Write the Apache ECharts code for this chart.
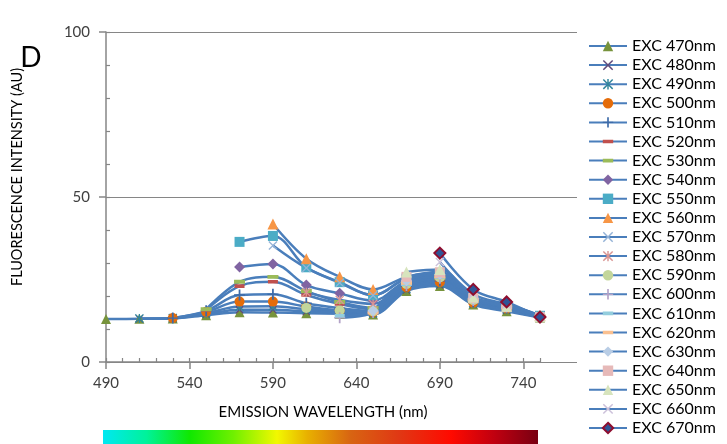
<!DOCTYPE html>
<html>
<head>
    <meta charset="utf-8">
    <script src="https://cdn.jsdelivr.net/npm/echarts@6/dist/echarts.min.js"></script>
    <style>
        html, body { margin: 0; padding: 0; background: #fff; }
    </style>
</head>
<body>
<div id="main" style="width: 727px;height:444px;"></div>
<script type="text/javascript">
    // emission wavelengths (x) and tick labels
    const emission = [490, 510, 530, 550, 570, 590, 610, 630, 650, 670, 690, 710, 730, 750];
    const xTicks = [490, 540, 590, 640, 690, 740];
    const yTicks = [0, 50, 100];

    // one array per excitation wavelength, null = not measured
    const exc470 = [13.0, 13.1, 13.2, 14.2, 15.1, 15.0, 14.8, 14.6, 14.4, 21.5, 23.0, 17.4, 15.4, 13.5];
    const exc480 = [null, 13.1, 13.2, 14.5, 15.8, 15.8, 15.3, 14.9, 14.6, 21.8, 23.3, 17.6, 15.7, 13.6];
    const exc490 = [null, 13.2, 13.3, 14.8, 16.8, 16.9, 16.0, 15.2, 14.8, 22.2, 23.8, 17.8, 16.0, 13.6];
    const exc500 = [null, null, 13.3, 15.2, 18.3, 18.3, 16.8, 15.6, 15.1, 22.6, 24.2, 18.0, 16.2, 13.7];
    const exc510 = [null, null, 13.3, 15.5, 20.3, 20.5, 17.8, 16.3, 15.4, 23.0, 24.6, 18.2, 16.4, 13.7];
    const exc520 = [null, null, null, 15.8, 23.0, 24.3, 20.3, 17.6, 16.0, 23.5, 25.0, 18.4, 16.6, 13.8];
    const exc530 = [null, null, null, 16.0, 24.3, 25.8, 21.5, 18.2, 16.4, 23.8, 25.4, 18.6, 16.8, 13.8];
    const exc540 = [null, null, null, null, 28.8, 29.7, 23.3, 20.8, 18.6, 24.6, 26.2, 19.0, 17.1, 13.9];
    const exc550 = [null, null, null, null, 36.4, 38.2, 28.7, 24.2, 20.2, 25.3, 26.8, 19.2, 17.3, 14.0];
    const exc560 = [null, null, null, null, null, 41.8, 31.3, 25.8, 22.0, 25.8, 27.3, 19.5, 17.5, 14.1];
    const exc570 = [null, null, null, null, null, 35.3, 28.5, 24.0, 20.2, 25.4, 26.9, 19.3, 17.4, 14.0];
    const exc580 = [null, null, null, null, null, null, 21.1, 18.8, 17.6, 24.2, 26.0, 19.0, 17.2, 13.9];
    const exc590 = [null, null, null, null, null, null, 16.4, 15.6, 15.3, 23.6, 25.6, 18.7, 17.0, 13.9];
    const exc600 = [null, null, null, null, null, null, null, 13.4, 15.0, 23.2, 25.4, 18.6, 16.9, 13.8];
    const exc610 = [null, null, null, null, null, null, null, 14.0, 15.3, 23.6, 25.8, 18.8, 17.0, 13.9];
    const exc620 = [null, null, null, null, null, null, null, null, 15.0, 24.0, 26.0, 18.9, 16.6, 13.8];
    const exc630 = [null, null, null, null, null, null, null, null, 15.5, 24.6, 26.6, 19.1, 16.7, 13.8];
    const exc640 = [null, null, null, null, null, null, null, null, null, 25.8, 27.2, 19.4, 16.6, 13.6];
    const exc650 = [null, null, null, null, null, null, null, null, null, 27.3, 28.0, 19.7, 16.9, 13.8];
    const exc660 = [null, null, null, null, null, null, null, null, null, null, 30.3, 20.6, 17.4, 13.8];
    const exc670 = [null, null, null, null, null, null, null, null, null, null, 33.0, 22.0, 18.2, 13.6];

    const seriesNames = ['EXC 470nm', 'EXC 480nm', 'EXC 490nm', 'EXC 500nm', 'EXC 510nm', 'EXC 520nm', 'EXC 530nm',
        'EXC 540nm', 'EXC 550nm', 'EXC 560nm', 'EXC 570nm', 'EXC 580nm', 'EXC 590nm', 'EXC 600nm', 'EXC 610nm',
        'EXC 620nm', 'EXC 630nm', 'EXC 640nm', 'EXC 650nm', 'EXC 660nm', 'EXC 670nm'];
    const seriesValues = [exc470, exc480, exc490, exc500, exc510, exc520, exc530, exc540, exc550, exc560, exc570,
        exc580, exc590, exc600, exc610, exc620, exc630, exc640, exc650, exc660, exc670];

    // marker shapes (dash keeps a square box so it stays flat in the legend too)
    const X_MARK = 'path://M0,1 L1,0 L5,4 L9,0 L10,1 L6,5 L10,9 L9,10 L5,6 L1,10 L0,9 L4,5 Z';
    const PLUS = 'path://M4.2,0 L5.8,0 L5.8,4.4 L10,4.4 L10,5.6 L5.8,5.6 L5.8,10 L4.2,10 L4.2,5.6 L0,5.6 L0,4.4 L4.2,4.4 Z';
    const STAR = 'path://M0,1 L1,0 L5,4 L9,0 L10,1 L6,5 L10,9 L9,10 L5,6 L1,10 L0,9 L4,5 Z M4.3,0 L5.7,0 L5.7,10 L4.3,10 Z';
    const DASH = 'path://M0,0 L0.01,0 L0,0.01 Z M0,3.2 L10,3.2 L10,6.8 L0,6.8 Z M10,10 L9.99,10 L10,9.99 Z';

    const markers = [
        ['triangle', 10, '#77933C'], [X_MARK, 8, '#604A7B'], [STAR, 9, '#31859C'], ['circle', 10, '#E46C0A'],
        [PLUS, 11, '#3E6BA8'], [DASH, 10, '#C0504D'], [DASH, 11, '#9BBB59'],
        ['diamond', 11, '#8064A2'], ['rect', 10, '#4BACC6'], ['triangle', 11, '#F79646'],
        [X_MARK, 9, '#95B3D7'], [STAR, 9, '#D99694'], ['circle', 10, '#C3D69B'], [PLUS, 11, '#B3A2C7'],
        [DASH, 10, '#93CDDD'], [DASH, 11, '#FAC090'], ['diamond', 11, '#B9CDE5'],
        ['rect', 10, '#E6B9B8'], ['triangle', 11, '#D7E4BD'], [X_MARK, 9, '#CCC1DA'], ['diamond', 11, '#2F5597']
    ];

    const myChart = echarts.init(document.getElementById('main'));

    const lineColor = '#4A7EBB';
    const axisGray = '#868686';
    const font = 'Lato';

    const series = seriesNames.map(function (name, i) {
        const m = markers[i];
        const s = {
            name: name,
            type: 'line',
            xAxisIndex: 0,
            yAxisIndex: 0,
            smooth: 0.35,
            symbol: m[0],
            symbolSize: m[1],
            showAllSymbol: true,
            data: emission.map(function (x, j) { return [x, seriesValues[i][j]]; })
                .filter(function (d) { return d[1] !== null; }),
            lineStyle: {color: lineColor, width: 2.5},
            itemStyle: {color: m[2]},
            emphasis: {disabled: true}
        };
        if (i === seriesNames.length - 1) {
            s.itemStyle = {color: m[2], borderColor: '#8E0E2F', borderWidth: 2};
        }
        return s;
    });

    const option = {
        animation: false,
        backgroundColor: '#fff',
        textStyle: {fontFamily: font},
        grid: [
            {left: 106, top: 32, width: 434, bottom: 82},
            {left: 106, top: 32, width: 471, bottom: 82}
        ],
        legend: {
            orient: 'vertical',
            left: 588,
            top: 38,
            padding: 0,
            itemWidth: 38,
            itemHeight: 13,
            itemGap: 3.1,
            textStyle: {fontSize: 16, fontFamily: font, color: '#000', lineHeight: 14},
            data: seriesNames
        },
        xAxis: [
            {
                type: 'value', gridIndex: 0, min: 490, max: 750, interval: 50,
                name: 'EMISSION WAVELENGTH (nm)', nameLocation: 'middle', nameGap: 43,
                nameTextStyle: {fontSize: 15, color: '#000', fontFamily: font},
                axisLine: {lineStyle: {color: axisGray, width: 1.5}},
                axisTick: {customValues: xTicks, length: 7, lineStyle: {color: axisGray, width: 1.5}},
                axisLabel: {customValues: xTicks, fontSize: 15, color: '#404040', margin: 14, fontFamily: font},
                splitLine: {show: false}
            },
            {
                type: 'value', gridIndex: 0, min: 490, max: 750, interval: 10, position: 'bottom',
                axisLine: {show: false},
                axisTick: {inside: true, length: 4, lineStyle: {color: axisGray, width: 1.2}},
                axisLabel: {show: false},
                splitLine: {show: false}
            },
            {
                type: 'value', gridIndex: 1, min: 0, max: 1, show: false
            }
        ],
        yAxis: [
            {
                type: 'value', gridIndex: 0, min: 0, max: 100, interval: 50,
                axisLine: {show: true, lineStyle: {color: axisGray, width: 1.5}},
                axisTick: {show: true, customValues: yTicks, length: 7, lineStyle: {color: axisGray, width: 1.5}},
                axisLabel: {customValues: yTicks, fontSize: 15, color: '#404040', margin: 16, fontFamily: font},
                splitLine: {show: false}
            },
            {
                type: 'value', gridIndex: 0, min: 0, max: 100, interval: 10, position: 'left',
                axisLine: {show: false},
                axisTick: {show: true, inside: true, length: 4, lineStyle: {color: axisGray, width: 1.2}},
                axisLabel: {show: false},
                splitLine: {show: false}
            },
            {
                type: 'value', gridIndex: 1, min: 0, max: 100, interval: 50,
                axisLine: {show: false}, axisTick: {show: false}, axisLabel: {show: false},
                splitLine: {show: true, lineStyle: {color: axisGray, width: 1.2}}
            }
        ],
        graphic: [
            {
                type: 'text', x: 31, y: 58,
                style: {text: 'D', fontSize: 28, fontFamily: font, fill: '#000', align: 'center', verticalAlign: 'middle'}
            },
            {
                type: 'text', x: 17, y: 177, rotation: Math.PI / 2,
                style: {
                    text: 'FLUORESCENCE INTENSITY (AU)', fontSize: 14.5, fontFamily: font, fill: '#000',
                    align: 'center', verticalAlign: 'middle'
                }
            },
            {
                type: 'rect',
                shape: {x: 103, y: 430, width: 435, height: 16},
                style: {
                    fill: new echarts.graphic.LinearGradient(0, 0, 1, 0, [
                        {offset: 0, color: '#00E8F2'},
                        {offset: 0.1, color: '#00F29A'},
                        {offset: 0.2, color: '#10E800'},
                        {offset: 0.3, color: '#70F000'},
                        {offset: 0.4, color: '#F2F800'},
                        {offset: 0.47, color: '#E8B000'},
                        {offset: 0.57, color: '#D86412'},
                        {offset: 0.68, color: '#E03814'},
                        {offset: 0.8, color: '#FF0A00'},
                        {offset: 0.9, color: '#C00010'},
                        {offset: 1, color: '#780012'}
                    ])
                }
            }
        ],
        series: series
    };

    myChart.setOption(option);
</script>
</body>
</html>
